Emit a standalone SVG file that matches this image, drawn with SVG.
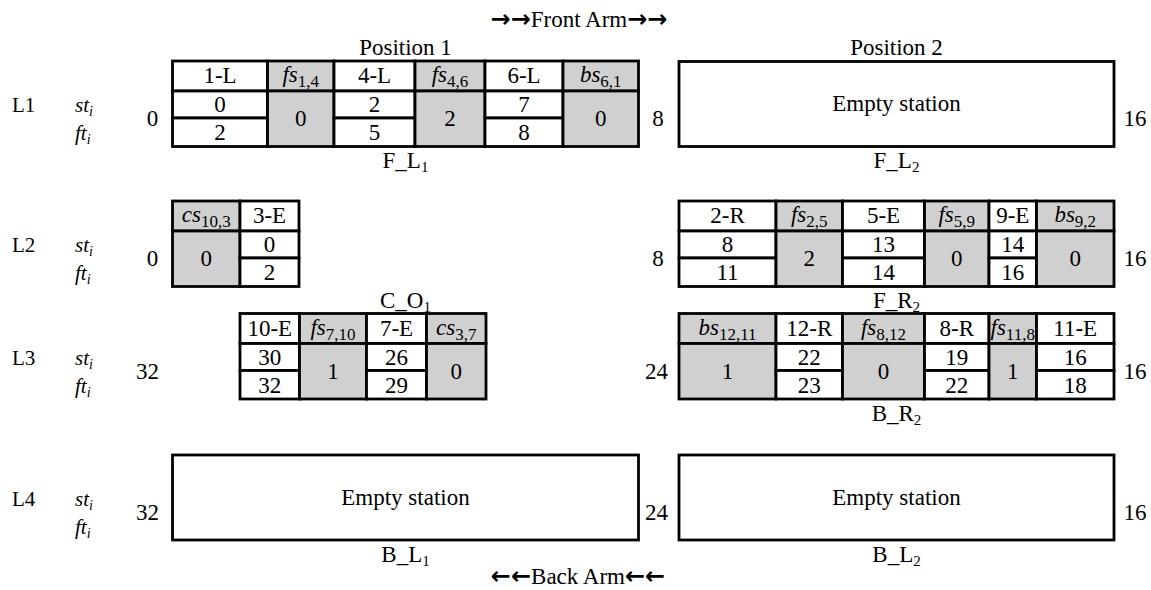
<svg xmlns="http://www.w3.org/2000/svg" width="1151" height="590" viewBox="0 0 1151 590">
<style>
.t{font-family:"Liberation Serif","Times New Roman",serif;font-size:23px;fill:#000}
.c{text-anchor:middle}
.it{font-style:italic;font-size:23px}
.sub{font-size:17px}
.lsub{font-size:15px}
.rl{font-size:21px}
.lab{font-family:"Liberation Serif",serif;font-size:21px;font-style:italic;fill:#000}
.isub{font-size:14px}
.w{fill:#ffffff;stroke:#000;stroke-width:2.8}
.g{fill:#d0d0d0;stroke:#000;stroke-width:2.8}
.box{fill:#ffffff;stroke:#000;stroke-width:2.8}
.ar{font-family:"DejaVu Sans",sans-serif;font-size:24px;font-weight:bold}
</style>
<rect width="1151" height="590" fill="#ffffff"/>

<g id="titles">
<text class="t c" x="579" y="27"><tspan class="ar">→→</tspan>Front Arm<tspan class="ar">→→</tspan></text>
<text class="t c" x="405.5" y="55">Position 1</text>
<text class="t c" x="896.5" y="55">Position 2</text>
<text class="t c" x="578" y="584"><tspan class="ar">←←</tspan>Back Arm<tspan class="ar">←←</tspan></text>
</g>

<g id="row-labels">
<text class="t rl" x="12" y="112">L1</text>
<text class="lab" x="75" y="112">st<tspan class="isub" dy="4">i</tspan></text>
<text class="lab" x="75" y="140">ft<tspan class="isub" dy="4">i</tspan></text>
<text class="t rl" x="12" y="252">L2</text>
<text class="lab" x="75" y="252">st<tspan class="isub" dy="4">i</tspan></text>
<text class="lab" x="75" y="280">ft<tspan class="isub" dy="4">i</tspan></text>
<text class="t rl" x="12" y="365">L3</text>
<text class="lab" x="75" y="365">st<tspan class="isub" dy="4">i</tspan></text>
<text class="lab" x="75" y="393">ft<tspan class="isub" dy="4">i</tspan></text>
<text class="t rl" x="12" y="506">L4</text>
<text class="lab" x="75" y="506">st<tspan class="isub" dy="4">i</tspan></text>
<text class="lab" x="75" y="534">ft<tspan class="isub" dy="4">i</tspan></text>
</g>

<g id="time-marks">
<text class="t c" x="152.5" y="126">0</text>
<text class="t c" x="658" y="126">8</text>
<text class="t c" x="1135" y="126">16</text>
<text class="t c" x="152.5" y="266">0</text>
<text class="t c" x="658" y="266">8</text>
<text class="t c" x="1135" y="266">16</text>
<text class="t c" x="147.5" y="378.5">32</text>
<text class="t c" x="656.5" y="378.5">24</text>
<text class="t c" x="1135" y="378.5">16</text>
<text class="t c" x="147.5" y="520">32</text>
<text class="t c" x="656.5" y="520">24</text>
<text class="t c" x="1135" y="520">16</text>
</g>

<g id="F_L1">
<rect class="w" x="172.5" y="61" width="95" height="30"/>
<rect class="w" x="172.5" y="91" width="95" height="27"/>
<rect class="w" x="172.5" y="118" width="95" height="28.5"/>
<rect class="g" x="267.5" y="61" width="66.5" height="30"/>
<rect class="g" x="267.5" y="91" width="66.5" height="55.5"/>
<rect class="w" x="334" y="61" width="81" height="30"/>
<rect class="w" x="334" y="91" width="81" height="27"/>
<rect class="w" x="334" y="118" width="81" height="28.5"/>
<rect class="g" x="415" y="61" width="70" height="30"/>
<rect class="g" x="415" y="91" width="70" height="55.5"/>
<rect class="w" x="485" y="61" width="78" height="30"/>
<rect class="w" x="485" y="91" width="78" height="27"/>
<rect class="w" x="485" y="118" width="78" height="28.5"/>
<rect class="g" x="563" y="61" width="75.5" height="30"/>
<rect class="g" x="563" y="91" width="75.5" height="55.5"/>
<text class="t c" x="220" y="83">1-L</text>
<text class="t c" x="220" y="112">0</text>
<text class="t c" x="220" y="140">2</text>
<text class="t c" x="300.75" y="82"><tspan class="it">fs</tspan><tspan class="sub" dy="5">1,4</tspan></text>
<text class="t c" x="300.75" y="126">0</text>
<text class="t c" x="374.5" y="83">4-L</text>
<text class="t c" x="374.5" y="112">2</text>
<text class="t c" x="374.5" y="140">5</text>
<text class="t c" x="450" y="82"><tspan class="it">fs</tspan><tspan class="sub" dy="5">4,6</tspan></text>
<text class="t c" x="450" y="126">2</text>
<text class="t c" x="524" y="83">6-L</text>
<text class="t c" x="524" y="112">7</text>
<text class="t c" x="524" y="140">8</text>
<text class="t c" x="600.75" y="82"><tspan class="it">bs</tspan><tspan class="sub" dy="5">6,1</tspan></text>
<text class="t c" x="600.75" y="126">0</text>
<text class="t c" x="405.5" y="168">F_L<tspan class="lsub" dy="4">1</tspan></text>
</g>

<g id="F_L2">
<rect class="box" x="679" y="61.5" width="435" height="85"/>
<text class="t c" x="896.5" y="111">Empty station</text>
<text class="t c" x="896.5" y="168">F_L<tspan class="lsub" dy="4">2</tspan></text>
</g>

<g id="C_O1">
<rect class="g" x="172.5" y="201" width="67.5" height="30"/>
<rect class="g" x="172.5" y="231" width="67.5" height="55.5"/>
<rect class="w" x="240" y="201" width="59" height="30"/>
<rect class="w" x="240" y="231" width="59" height="27"/>
<rect class="w" x="240" y="258" width="59" height="28.5"/>
<text class="t c" x="206.25" y="222"><tspan class="it">cs</tspan><tspan class="sub" dy="5">10,3</tspan></text>
<text class="t c" x="206.25" y="266">0</text>
<text class="t c" x="269.5" y="223">3-E</text>
<text class="t c" x="269.5" y="252">0</text>
<text class="t c" x="269.5" y="280">2</text>
<text class="t c" x="405.5" y="308">C_O<tspan class="lsub" dy="4">1</tspan></text>
</g>

<g id="F_R2">
<rect class="w" x="679" y="201" width="97" height="30"/>
<rect class="w" x="679" y="231" width="97" height="27"/>
<rect class="w" x="679" y="258" width="97" height="28.5"/>
<rect class="g" x="776" y="201" width="66.5" height="30"/>
<rect class="g" x="776" y="231" width="66.5" height="55.5"/>
<rect class="w" x="842.5" y="201" width="82" height="30"/>
<rect class="w" x="842.5" y="231" width="82" height="27"/>
<rect class="w" x="842.5" y="258" width="82" height="28.5"/>
<rect class="g" x="924.5" y="201" width="64.5" height="30"/>
<rect class="g" x="924.5" y="231" width="64.5" height="55.5"/>
<rect class="w" x="989" y="201" width="47.5" height="30"/>
<rect class="w" x="989" y="231" width="47.5" height="27"/>
<rect class="w" x="989" y="258" width="47.5" height="28.5"/>
<rect class="g" x="1036.5" y="201" width="77.5" height="30"/>
<rect class="g" x="1036.5" y="231" width="77.5" height="55.5"/>
<text class="t c" x="727.5" y="223">2-R</text>
<text class="t c" x="727.5" y="252">8</text>
<text class="t c" x="727.5" y="280">11</text>
<text class="t c" x="809.25" y="222"><tspan class="it">fs</tspan><tspan class="sub" dy="5">2,5</tspan></text>
<text class="t c" x="809.25" y="266">2</text>
<text class="t c" x="883.5" y="223">5-E</text>
<text class="t c" x="883.5" y="252">13</text>
<text class="t c" x="883.5" y="280">14</text>
<text class="t c" x="956.75" y="222"><tspan class="it">fs</tspan><tspan class="sub" dy="5">5,9</tspan></text>
<text class="t c" x="956.75" y="266">0</text>
<text class="t c" x="1012.75" y="223">9-E</text>
<text class="t c" x="1012.75" y="252">14</text>
<text class="t c" x="1012.75" y="280">16</text>
<text class="t c" x="1075.25" y="222"><tspan class="it">bs</tspan><tspan class="sub" dy="5">9,2</tspan></text>
<text class="t c" x="1075.25" y="266">0</text>
<text class="t c" x="896.5" y="308">F_R<tspan class="lsub" dy="4">2</tspan></text>
</g>

<g id="C_O1-L3">
<rect class="w" x="240" y="313.5" width="59.5" height="30"/>
<rect class="w" x="240" y="343.5" width="59.5" height="27"/>
<rect class="w" x="240" y="370.5" width="59.5" height="28.5"/>
<rect class="g" x="299.5" y="313.5" width="67" height="30"/>
<rect class="g" x="299.5" y="343.5" width="67" height="55.5"/>
<rect class="w" x="366.5" y="313.5" width="60" height="30"/>
<rect class="w" x="366.5" y="343.5" width="60" height="27"/>
<rect class="w" x="366.5" y="370.5" width="60" height="28.5"/>
<rect class="g" x="426.5" y="313.5" width="59.5" height="30"/>
<rect class="g" x="426.5" y="343.5" width="59.5" height="55.5"/>
<text class="t c" x="269.75" y="335.5">10-E</text>
<text class="t c" x="269.75" y="364.5">30</text>
<text class="t c" x="269.75" y="392.5">32</text>
<text class="t c" x="333" y="334.5"><tspan class="it">fs</tspan><tspan class="sub" dy="5">7,10</tspan></text>
<text class="t c" x="333" y="378.5">1</text>
<text class="t c" x="396.5" y="335.5">7-E</text>
<text class="t c" x="396.5" y="364.5">26</text>
<text class="t c" x="396.5" y="392.5">29</text>
<text class="t c" x="456.25" y="334.5"><tspan class="it">cs</tspan><tspan class="sub" dy="5">3,7</tspan></text>
<text class="t c" x="456.25" y="378.5">0</text>
</g>

<g id="B_R2">
<rect class="g" x="679" y="313.5" width="97" height="30"/>
<rect class="g" x="679" y="343.5" width="97" height="55.5"/>
<rect class="w" x="776" y="313.5" width="66.5" height="30"/>
<rect class="w" x="776" y="343.5" width="66.5" height="27"/>
<rect class="w" x="776" y="370.5" width="66.5" height="28.5"/>
<rect class="g" x="842.5" y="313.5" width="82" height="30"/>
<rect class="g" x="842.5" y="343.5" width="82" height="55.5"/>
<rect class="w" x="924.5" y="313.5" width="64.5" height="30"/>
<rect class="w" x="924.5" y="343.5" width="64.5" height="27"/>
<rect class="w" x="924.5" y="370.5" width="64.5" height="28.5"/>
<rect class="g" x="989" y="313.5" width="47.5" height="30"/>
<rect class="g" x="989" y="343.5" width="47.5" height="55.5"/>
<rect class="w" x="1036.5" y="313.5" width="77.5" height="30"/>
<rect class="w" x="1036.5" y="343.5" width="77.5" height="27"/>
<rect class="w" x="1036.5" y="370.5" width="77.5" height="28.5"/>
<text class="t c" x="727.5" y="334.5"><tspan class="it">bs</tspan><tspan class="sub" dy="5">12,11</tspan></text>
<text class="t c" x="727.5" y="378.5">1</text>
<text class="t c" x="809.25" y="335.5">12-R</text>
<text class="t c" x="809.25" y="364.5">22</text>
<text class="t c" x="809.25" y="392.5">23</text>
<text class="t c" x="883.5" y="334.5"><tspan class="it">fs</tspan><tspan class="sub" dy="5">8,12</tspan></text>
<text class="t c" x="883.5" y="378.5">0</text>
<text class="t c" x="956.75" y="335.5">8-R</text>
<text class="t c" x="956.75" y="364.5">19</text>
<text class="t c" x="956.75" y="392.5">22</text>
<text class="t c" x="1012.75" y="334.5"><tspan class="it">fs</tspan><tspan class="sub" dy="5">11,8</tspan></text>
<text class="t c" x="1012.75" y="378.5">1</text>
<text class="t c" x="1075.25" y="335.5">11-E</text>
<text class="t c" x="1075.25" y="364.5">16</text>
<text class="t c" x="1075.25" y="392.5">18</text>
<text class="t c" x="896.5" y="420.5">B_R<tspan class="lsub" dy="4">2</tspan></text>
</g>

<g id="B_L1">
<rect class="box" x="172.5" y="455" width="466" height="85"/>
<text class="t c" x="405.5" y="505">Empty station</text>
<text class="t c" x="405.5" y="562">B_L<tspan class="lsub" dy="4">1</tspan></text>
</g>
<g id="B_L2">
<rect class="box" x="679" y="455" width="435" height="85"/>
<text class="t c" x="896.5" y="505">Empty station</text>
<text class="t c" x="896.5" y="562">B_L<tspan class="lsub" dy="4">2</tspan></text>
</g>
</svg>
